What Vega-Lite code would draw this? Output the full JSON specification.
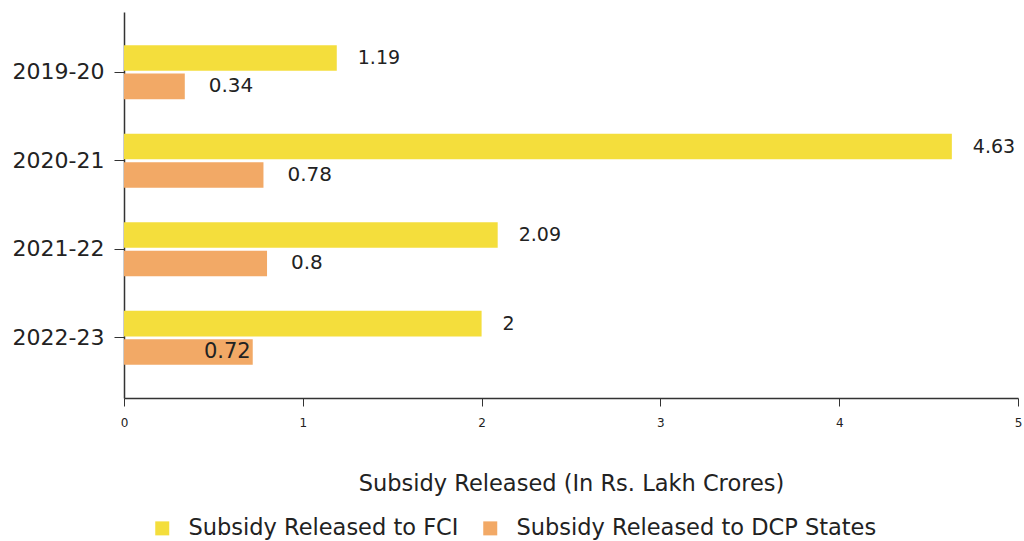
{
  "$schema": "https://vega.github.io/schema/vega-lite/v6.json",
  "width": 894,
  "height": 386,
  "autosize": "none",
  "padding": {"left": 124, "top": 12, "right": 6, "bottom": 143},
  "background": "white",
  "config": {
    "font": "DejaVu Sans",
    "view": {"stroke": null},
    "axis": {"grid": false, "domainColor": "#333", "tickColor": "#333", "labelColor": "#222", "titleColor": "#222"}
  },
  "data": {
    "values": [
      {"year": "2019-20", "series": "Subsidy Released to FCI", "value": 1.19},
      {"year": "2019-20", "series": "Subsidy Released to DCP States", "value": 0.34},
      {"year": "2020-21", "series": "Subsidy Released to FCI", "value": 4.63},
      {"year": "2020-21", "series": "Subsidy Released to DCP States", "value": 0.78},
      {"year": "2021-22", "series": "Subsidy Released to FCI", "value": 2.09},
      {"year": "2021-22", "series": "Subsidy Released to DCP States", "value": 0.8},
      {"year": "2022-23", "series": "Subsidy Released to FCI", "value": 2},
      {"year": "2022-23", "series": "Subsidy Released to DCP States", "value": 0.72}
    ]
  },
  "encoding": {
    "y": {
      "field": "year", "type": "nominal",
      "scale": {"paddingInner": 0.39, "paddingOuter": 0.375},
      "axis": {"title": null, "labelFontSize": 22, "tickSize": 10, "labelPadding": 10, "domainWidth": 1.5}
    },
    "yOffset": {
      "field": "series", "type": "nominal",
      "sort": ["Subsidy Released to FCI", "Subsidy Released to DCP States"],
      "scale": {"paddingInner": 0.1}
    },
    "x": {
      "field": "value", "type": "quantitative",
      "scale": {"domain": [0, 5], "nice": false},
      "axis": {
        "title": "Subsidy Released (In Rs. Lakh Crores)",
        "titleFontSize": 22.5, "titleFontWeight": "normal", "titlePadding": 44,
        "labelFontSize": 12, "labelPadding": 11, "tickSize": 8,
        "values": [0, 1, 2, 3, 4, 5], "labelOverlap": false, "labelFlush": false, "labelBound": false,
        "domainWidth": 1.5
      }
    }
  },
  "layer": [
    {
      "mark": {"type": "bar"},
      "encoding": {
        "color": {
          "field": "series", "type": "nominal",
          "scale": {"domain": ["Subsidy Released to FCI", "Subsidy Released to DCP States"], "range": ["#F4DE3C", "#F2A966"]},
          "legend": {
            "title": null, "orient": "none", "direction": "horizontal",
            "legendX": 27, "legendY": 505,
            "symbolType": "square", "symbolSize": 196, "symbolStrokeWidth": 0,
            "labelFontSize": 22.5, "labelColor": "#222", "labelOffset": 15, "columnPadding": 20,
            "labelLimit": 500
          }
        }
      }
    },
    {
      "transform": [{"filter": "datum.series == 'Subsidy Released to FCI'"}],
      "mark": {"type": "text", "align": "left", "dx": 21, "fontSize": 19, "color": "#222"},
      "encoding": {"text": {"field": "value", "type": "nominal"}}
    },
    {
      "transform": [{"filter": "datum.series == 'Subsidy Released to DCP States' && datum.value != 0.72"}],
      "mark": {"type": "text", "align": "left", "dx": 24, "fontSize": 20, "color": "#222"},
      "encoding": {"text": {"field": "value", "type": "nominal"}}
    },
    {
      "transform": [{"filter": "datum.value == 0.72"}],
      "mark": {"type": "text", "align": "right", "dx": -2, "fontSize": 21, "color": "#222"},
      "encoding": {"text": {"field": "value", "type": "nominal"}}
    }
  ]
}
